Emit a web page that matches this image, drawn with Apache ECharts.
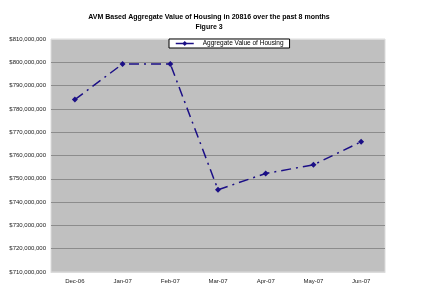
<!DOCTYPE html>
<html><head><meta charset="utf-8">
<script src="https://cdn.jsdelivr.net/npm/echarts@6/dist/echarts.min.js"></script>
<style>html,body{margin:0;padding:0;background:#fff}#c{width:433px;height:296px}</style>
</head><body><div id="c"></div>
<script>
const categories = ['Dec-06','Jan-07','Feb-07','Mar-07','Apr-07','May-07','Jun-07'];
const values = [784000000, 799300000, 799300000, 745300000, 752300000, 756000000, 765900000];
const seriesName = 'Aggregate Value of Housing';
const titleText = 'AVM Based Aggregate Value of Housing in 20816 over the past 8 months';
const subText = 'Figure 3';

const chart = echarts.init(document.getElementById('c'));
function fmt(v){ return '$' + Math.round(v).toString().replace(/\B(?=(\d{3})+(?!\d))/g, ','); }
const gl = '#8c8c8c', edge = '#dcdcdc';
chart.setOption({
  animation: false,
  backgroundColor: '#fff',
  title: {
    text: titleText, subtext: subText, left: 204, top: 9, textAlign: 'center', itemGap: 3,
    textStyle: {fontFamily: 'Liberation Sans', fontSize: 7, fontWeight: 'bold', color: '#000'},
    subtextStyle: {fontFamily: 'Liberation Sans', fontSize: 7, fontWeight: 'bold', color: '#000'}
  },
  legend: {
    data: [seriesName], left: 169, top: 39, width: 104, height: 10,
    padding: [1, 6, 1, 6], itemWidth: 18, itemHeight: 6, itemGap: 0,
    backgroundColor: '#fff', borderColor: '#000', borderWidth: 1, borderRadius: 0,
    textStyle: {fontFamily: 'Liberation Sans', fontSize: 6.5, color: '#000', padding: [0,0,0,4]},
    itemStyle: {color: '#1b0f86'},
    lineStyle: {type: 'solid', width: 1.5}
  },
  grid: {left: 51, right: 48, top: 39, bottom: 24, show: true, backgroundColor: '#c0c0c0', borderWidth: 1, borderColor: edge},
  xAxis: {
    type: 'category', data: categories, boundaryGap: true,
    axisLine: {lineStyle: {color: edge, width: 1}},
    axisTick: {show: false},
    axisLabel: {fontFamily: 'Liberation Sans', fontSize: 6, color: '#222', margin: 6}
  },
  yAxis: {
    type: 'value', min: 710000000, max: 810000000, interval: 10000000,
    axisLine: {show: false}, axisTick: {show: false},
    splitLine: {lineStyle: {color: [edge, gl, gl, gl, gl, gl, gl, gl, gl, gl, edge], width: 1}},
    axisLabel: {fontFamily: 'Liberation Sans', fontSize: 6, color: '#222', margin: 5, formatter: fmt}
  },
  series: [{
    name: seriesName, type: 'line', data: values,
    symbol: 'diamond', symbolSize: 6,
    itemStyle: {color: '#1b0f86'},
    lineStyle: {color: '#1b0f86', width: 1.5, type: [10, 5, 2, 5]}
  }]
});
</script></body></html>
